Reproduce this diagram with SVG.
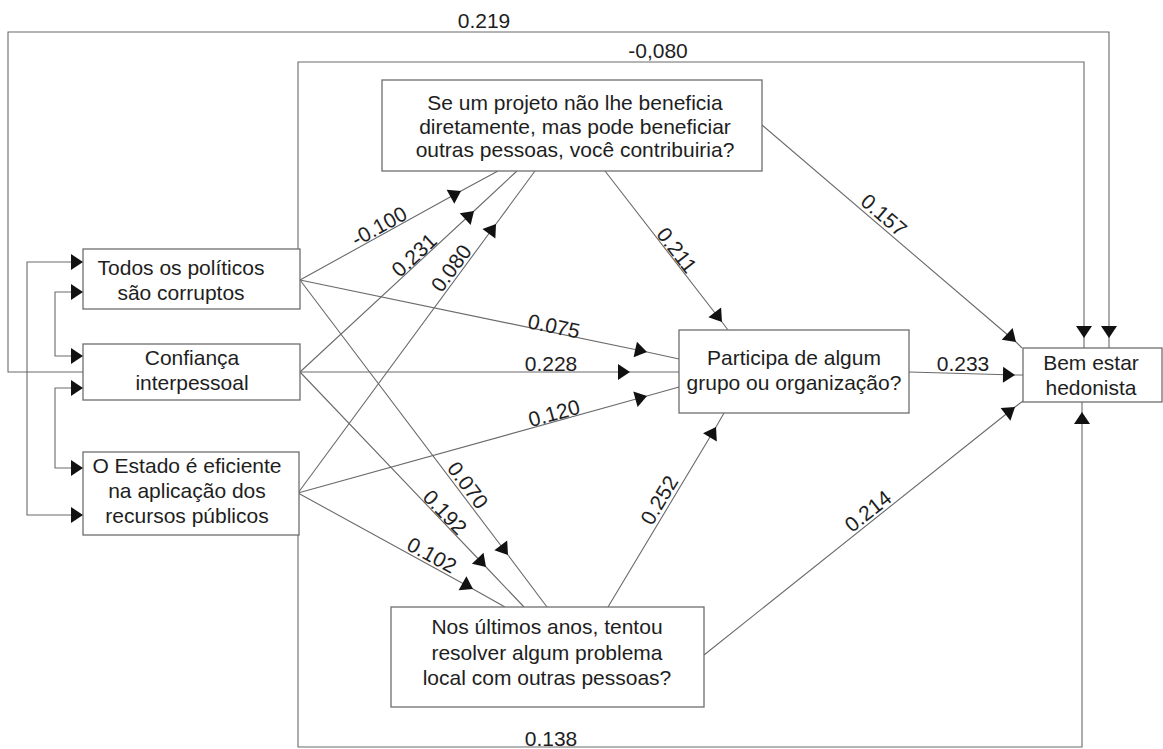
<svg xmlns="http://www.w3.org/2000/svg" width="1163" height="749" viewBox="0 0 1163 749">
<style>
.box{fill:#fff;stroke:#6e6e6e;stroke-width:1.3}
.t{font-family:"Liberation Sans",Arial,sans-serif;font-size:21px;fill:#1e1e1e;text-anchor:middle}
.c{fill:none;stroke:#6a6a6a;stroke-width:1.1}
.m{marker-mid:url(#ah)}
.e{marker-end:url(#ahoff)}
.b{marker-start:url(#ahs);marker-end:url(#ah)}
</style>
<defs>
<marker id="ah" viewBox="-13 -9 15 18" markerWidth="15" markerHeight="18" refX="0" refY="0" orient="auto" markerUnits="userSpaceOnUse" overflow="visible"><path d="M0,0 L-12,-8 L-12,8 Z" fill="#111"/></marker>
<marker id="ahs" viewBox="-13 -9 15 18" markerWidth="15" markerHeight="18" refX="0" refY="0" orient="auto-start-reverse" markerUnits="userSpaceOnUse" overflow="visible"><path d="M0,0 L-12,-8 L-12,8 Z" fill="#111"/></marker>
<marker id="ahoff" viewBox="-23 -9 25 18" markerWidth="25" markerHeight="18" refX="0" refY="0" orient="auto" markerUnits="userSpaceOnUse" overflow="visible"><path d="M-10,0 L-22,-8 L-22,8 Z" fill="#111"/></marker>
</defs>
<rect width="1163" height="749" fill="#fff"/>
<g id="connectors">
<path class="c e" d="M83,372 H8 V32 H1109 V348"/>
<path class="c e" d="M298,249 V62 H1084 V348"/>
<path class="c e" d="M298,535 V747 H1082 V402"/>
<path class="c b" d="M83,262 H27 V515 H83"/>
<path class="c b" d="M83,292 H55 V356 H83"/>
<path class="c b" d="M83,388 H55 V468 H83"/>
<path class="c m" d="M300,280 L461,191 L498,171"/>
<path class="c m" d="M300,372 L474,211 L517,171"/>
<path class="c m" d="M298,493 L496,224 L535,171"/>
<path class="c m" d="M300,280 L647,352 L679,359"/>
<path class="c m" d="M300,372 L630,372 L679,372"/>
<path class="c m" d="M298,493 L647,396 L679,387"/>
<path class="c m" d="M605,171 L722,322 L728,330"/>
<path class="c m" d="M762,125 L1016,342 L1022,348"/>
<path class="c m" d="M909,372 L1015,375 L1023,375"/>
<path class="c m" d="M608,607 L716,427 L724,413"/>
<path class="c m" d="M704,655 L1015,407 L1023,401"/>
<path class="c m" d="M300,280 L508,555 L547,607"/>
<path class="c m" d="M300,372 L486,567 L524,607"/>
<path class="c m" d="M298,493 L473,589 L505,607"/>
</g>
<g id="labels" class="t">
<text x="484" y="28">0.219</text>
<text x="658" y="58">-0,080</text>
<text x="551" y="746">0.138</text>
<text transform="translate(379,226) rotate(-28.8)" y="7.5">-0.100</text>
<text transform="translate(414,255) rotate(-42.8)" y="7.5">0.231</text>
<text transform="translate(451,268) rotate(-53.6)" y="7.5">0.080</text>
<text transform="translate(554,326) rotate(11.8)" y="7.5">0.075</text>
<text x="551" y="371">0.228</text>
<text transform="translate(554,413) rotate(-15.5)" y="7.5">0.120</text>
<text transform="translate(677,250) rotate(52.3)" y="7.5">0.211</text>
<text transform="translate(884,215) rotate(40.6)" y="7.5">0.157</text>
<text x="963" y="371">0.233</text>
<text transform="translate(659,500) rotate(-59.1)" y="7.5">0.252</text>
<text transform="translate(868,511) rotate(-38.5)" y="7.5">0.214</text>
<text transform="translate(468,485) rotate(53)" y="7.5">0.070</text>
<text transform="translate(445,512) rotate(46.4)" y="7.5">0.192</text>
<text transform="translate(432,555) rotate(28.8)" y="7.5">0.102</text>
</g>
<g id="n-todos">
<rect class="box" x="83" y="249" width="217" height="60"/>
<text class="t" x="181" y="275">Todos os políticos</text>
<text class="t" x="181" y="300">são corruptos</text>
</g>
<g id="n-confianca">
<rect class="box" x="83" y="344" width="217" height="56"/>
<text class="t" x="192" y="365">Confiança</text>
<text class="t" x="192" y="390">interpessoal</text>
</g>
<g id="n-estado">
<rect class="box" x="83" y="452" width="216" height="83"/>
<text class="t" x="187" y="473">O Estado é eficiente</text>
<text class="t" x="187" y="498">na aplicação dos</text>
<text class="t" x="187" y="523">recursos públicos</text>
</g>
<g id="n-projeto">
<rect class="box" x="382" y="80" width="380" height="91"/>
<text class="t" x="575" y="110">Se um projeto não lhe beneficia</text>
<text class="t" x="575" y="134">diretamente, mas pode beneficiar</text>
<text class="t" x="575" y="157">outras pessoas, você contribuiria?</text>
</g>
<g id="n-participa">
<rect class="box" x="679" y="330" width="230" height="83"/>
<text class="t" x="794" y="365">Participa de algum</text>
<text class="t" x="794" y="390">grupo ou organização?</text>
</g>
<g id="n-bemestar">
<rect class="box" x="1023" y="348" width="139" height="54"/>
<text class="t" x="1091" y="370">Bem estar</text>
<text class="t" x="1091" y="395">hedonista</text>
</g>
<g id="n-ultimos">
<rect class="box" x="391" y="607" width="313" height="100"/>
<text class="t" x="547" y="634">Nos últimos anos, tentou</text>
<text class="t" x="547" y="660">resolver algum problema</text>
<text class="t" x="547" y="685">local com outras pessoas?</text>
</g>
</svg>
